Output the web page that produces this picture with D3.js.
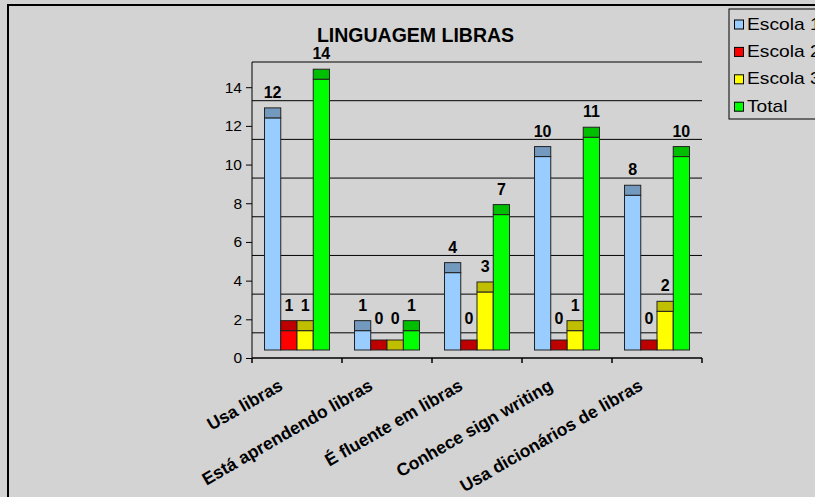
<!DOCTYPE html>
<html>
<head>
<meta charset="utf-8">
<script src="https://cdn.jsdelivr.net/npm/d3@7"></script>
<style>
  body { margin: 0; background: #d3d3d3; }
  svg { display: block; font-family: "Liberation Sans", Arial, sans-serif; }
</style>
</head>
<body>
<svg id="chart" width="815" height="497"></svg>
<script>
const categories = [
  "Usa libras",
  "Está aprendendo libras",
  "É fluente em libras",
  "Conhece sign writing",
  "Usa dicionários de libras",
];
const seriesNames = ["Escola 1", "Escola 2", "Escola 3", "Total"];
const escola1 = [12, 1, 4, 10, 8];
const escola2 = [1, 0, 0, 0, 0];
const escola3 = [1, 0, 3, 1, 2];
const total = [14, 1, 7, 11, 10];
const yTicks = [0, 2, 4, 6, 8, 10, 12, 14];
const gridValues = [2, 4, 6, 8, 10, 12, 14, 16];
const colors = ["#99ccff", "#ff0000", "#ffff00", "#00ff00"];

const series = [escola1, escola2, escola3, total];

// 3d look: bars sit a bit above the floor edge, back wall sits lower
const LIFT = 8;
const DEPTH = 10;
const WALL = 13.5;

const svg = d3.select("#chart");

svg
  .append("rect")
  .attr("x", 0)
  .attr("y", 0)
  .attr("width", 815)
  .attr("height", 497)
  .attr("fill", "#d3d3d3");

svg
  .append("rect")
  .attr("x", 8)
  .attr("y", 5)
  .attr("width", 830)
  .attr("height", 520)
  .attr("fill", "none")
  .attr("stroke", "#000")
  .attr("stroke-width", 2);

const x = d3.scaleBand().domain(categories).range([252, 702]).padding(0);
const xs = d3
  .scaleBand()
  .domain(seriesNames)
  .range([0, x.bandwidth()])
  .paddingInner(0)
  .paddingOuter(0.77);
const y = d3.scaleLinear().domain([0, 14]).range([358, 87.2]);

const shade = (c) => {
  const col = d3.rgb(c);
  return d3.rgb(col.r * 0.75, col.g * 0.75, col.b * 0.75).formatHex();
};

// gridlines on the back wall
svg
  .append("g")
  .selectAll("line")
  .data(gridValues)
  .join("line")
  .attr("x1", x.range()[0])
  .attr("x2", x.range()[1])
  .attr("y1", (d) => y(d) + WALL)
  .attr("y2", (d) => y(d) + WALL)
  .attr("stroke", "#000")
  .attr("stroke-width", 1);

// title
svg
  .append("text")
  .attr("x", 415.5)
  .attr("y", 41.5)
  .attr("text-anchor", "middle")
  .attr("font-size", 19.5)
  .attr("font-weight", "bold")
  .attr("fill", "#000")
  .text("LINGUAGEM LIBRAS");

// y axis
const yAxis = d3.axisLeft(y).tickValues(yTicks).tickSize(6).tickPadding(4);
const yg = svg.append("g").attr("transform", `translate(${x.range()[0]},0)`).call(yAxis);
yg.select(".domain").remove();
yg.selectAll("text")
  .attr("font-size", 15.5)
  .attr("font-family", null)
  .attr("fill", "#000");
yg.selectAll("line").attr("stroke", "#000");

svg
  .append("line")
  .attr("x1", x.range()[0])
  .attr("x2", x.range()[0])
  .attr("y1", y(0))
  .attr("y2", y(16) + WALL)
  .attr("stroke", "#000");

// x axis
svg
  .append("line")
  .attr("x1", x.range()[0])
  .attr("x2", x.range()[1])
  .attr("y1", y(0))
  .attr("y2", y(0))
  .attr("stroke", "#000")
  .attr("stroke-width", 1.5);

svg
  .append("g")
  .selectAll("line")
  .data(categories.concat([null]))
  .join("line")
  .attr("x1", (d) => (d ? x(d) : x.range()[1]))
  .attr("x2", (d) => (d ? x(d) : x.range()[1]))
  .attr("y1", y(0))
  .attr("y2", y(0) + 5)
  .attr("stroke", "#000")
  .attr("stroke-width", 1.5);

svg
  .append("g")
  .selectAll("text")
  .data(categories)
  .join("text")
  .attr(
    "transform",
    (d) => `translate(${x(d) + x.bandwidth() / 2 - 13},389) rotate(-30)`
  )
  .attr("text-anchor", "end")
  .attr("font-size", 17.5)
  .attr("font-weight", "bold")
  .attr("fill", "#000")
  .text((d) => d);

// bars
const bars = [];
series.forEach((vals, si) => {
  vals.forEach((v, ci) => {
    bars.push({ cat: categories[ci], name: seriesNames[si], v, color: colors[si] });
  });
});

const barG = svg.append("g");
const bx = (d) => x(d.cat) + xs(d.name);

barG
  .selectAll(".front")
  .data(bars)
  .join("rect")
  .attr("class", "front")
  .attr("x", bx)
  .attr("y", (d) => y(d.v) - LIFT)
  .attr("width", xs.bandwidth())
  .attr("height", (d) => y(0) - y(d.v))
  .attr("fill", (d) => d.color)
  .attr("stroke", "#222")
  .attr("stroke-width", 1);

barG
  .selectAll(".cap")
  .data(bars)
  .join("rect")
  .attr("class", "cap")
  .attr("x", bx)
  .attr("y", (d) => y(d.v) - LIFT - DEPTH)
  .attr("width", xs.bandwidth())
  .attr("height", DEPTH)
  .attr("fill", (d) => shade(d.color))
  .attr("stroke", "#222")
  .attr("stroke-width", 1);

barG
  .selectAll(".lbl")
  .data(bars)
  .join("text")
  .attr("class", "lbl")
  .attr("x", (d) => bx(d) + xs.bandwidth() / 2)
  .attr("y", (d) => y(d.v) - LIFT - DEPTH - (d.v === 0 ? 16 : 10))
  .attr("text-anchor", "middle")
  .attr("font-size", 16)
  .attr("font-weight", "bold")
  .attr("fill", "#000")
  .text((d) => d.v);

// legend
const legend = svg.append("g").attr("transform", "translate(729,9)");
legend
  .append("rect")
  .attr("width", 120)
  .attr("height", 110)
  .attr("fill", "#d3d3d3")
  .attr("stroke", "#000")
  .attr("stroke-width", 1);

const items = legend
  .selectAll(".item")
  .data(seriesNames)
  .join("g")
  .attr("class", "item")
  .attr("transform", (d, i) => `translate(0,${20.5 + i * 27.4})`);

items
  .append("rect")
  .attr("x", 5.5)
  .attr("y", -9.5)
  .attr("width", 9)
  .attr("height", 9)
  .attr("fill", (d, i) => colors[i])
  .attr("stroke", "#000");

items
  .append("text")
  .attr("transform", "translate(18,0) scale(1.2,1)")
  .attr("font-size", 16)
  .attr("fill", "#000")
  .text((d) => d);
</script>
</body>
</html>
